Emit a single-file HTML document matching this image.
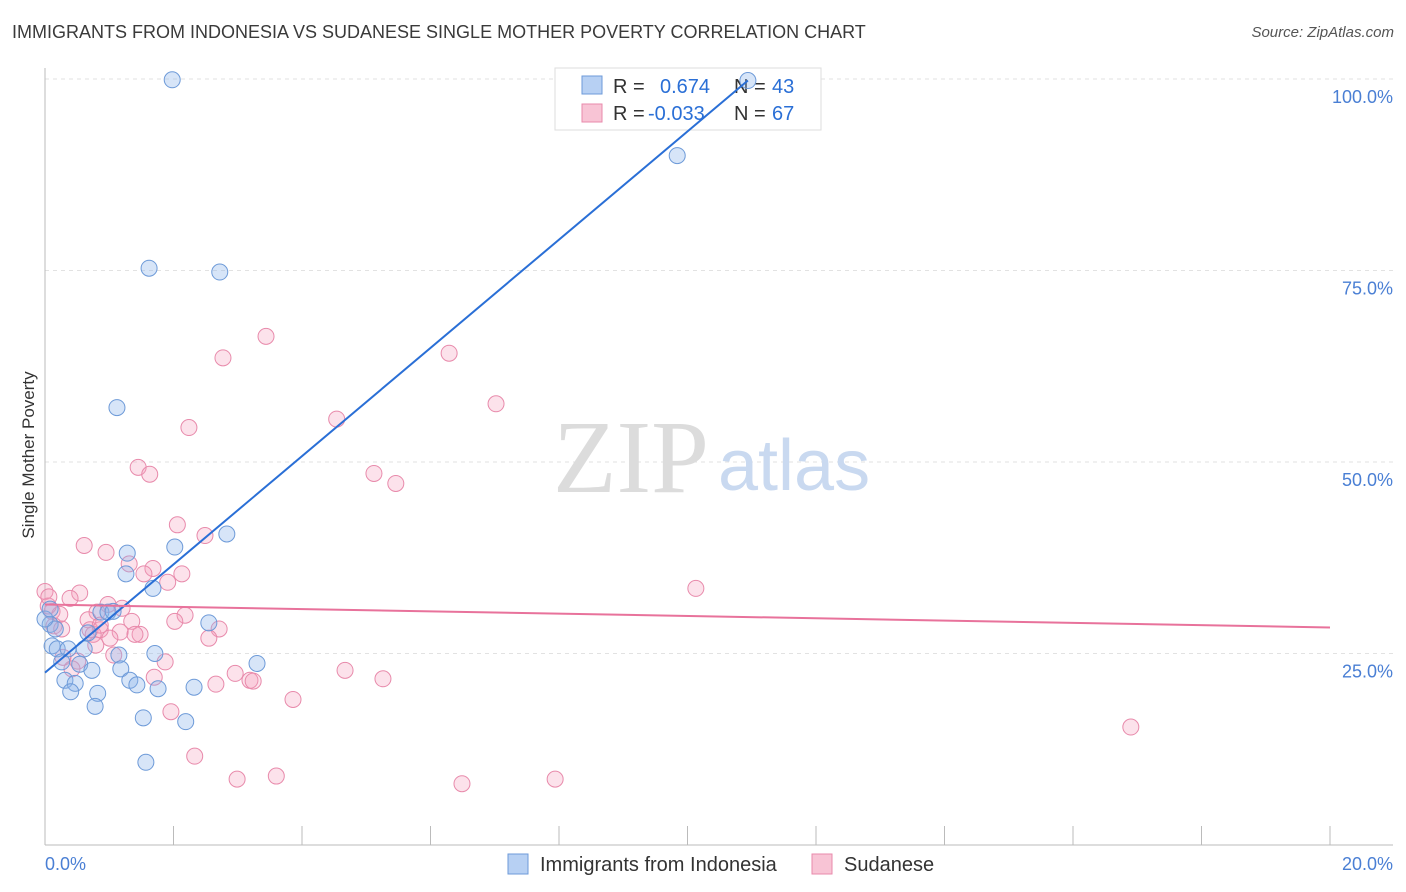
<!DOCTYPE html>
<html><head><meta charset="utf-8">
<style>
body{margin:0;background:#fff;font-family:"Liberation Sans",sans-serif;}
#wrap{position:relative;width:1406px;height:892px;overflow:hidden;}
.t{position:absolute;white-space:nowrap;}
</style></head><body>
<div id="wrap">
<div class="t" style="left:12px;top:22px;font-size:18px;color:#3a3a3a;">IMMIGRANTS FROM INDONESIA VS SUDANESE SINGLE MOTHER POVERTY CORRELATION CHART</div>
<div class="t" style="right:12px;top:24px;font-size:15px;color:#555;font-style:italic;">Source: ZipAtlas.com</div>
<div class="t" style="left:-56px;top:445px;font-size:17px;color:#333;transform:rotate(-90deg);transform-origin:center;width:170px;text-align:center;">Single Mother Poverty</div>
<svg id="svg" width="1406" height="892" style="position:absolute;left:0;top:0"></svg>
</div>
<script>
const xTicks=[0,2,4,6,8,10,12,14,16,18,20];
const yTicks=[25,50,75,100];
const yTickLabels=["25.0%","50.0%","75.0%","100.0%"];
const blueX=[1.98,10.94,9.84,1.62,2.72,1.12,2.02,2.83,1.28,1.26,1.68,0.87,0.98,1.06,2.55,0.08,0.16,0.67,0.11,0.19,0.36,0.61,1.15,1.71,3.30,0.26,0.54,0.73,1.18,0.31,0.47,1.32,1.43,1.76,2.32,0.40,0.82,0.78,1.53,2.19,1.57,0.00,0.08];
const blueY=[99.9,99.8,90.0,75.3,74.8,57.1,38.9,40.6,38.1,35.4,33.5,30.4,30.4,30.5,29.0,28.8,28.2,27.7,26.0,25.6,25.6,25.6,24.8,25.0,23.7,23.9,23.6,22.8,23.0,21.5,21.1,21.5,20.9,20.4,20.6,20.0,19.8,18.1,16.6,16.1,10.8,29.5,30.8];
const pinkX=[3.44,2.77,6.29,7.02,4.54,2.24,1.45,1.63,5.12,5.46,2.06,2.49,0.61,0.95,1.31,1.68,1.54,2.13,1.91,10.13,0.54,0.00,0.39,0.98,1.20,0.11,0.23,0.81,2.18,0.67,1.35,2.02,0.14,0.70,1.17,0.86,1.48,2.71,0.75,2.55,0.79,1.07,1.87,0.28,0.51,1.70,2.96,3.19,3.24,4.67,5.26,2.66,3.86,1.96,16.90,2.33,2.99,3.60,6.49,7.94,0.05,0.26,1.40,1.01,0.42,0.06,0.86];
const pinkY=[66.4,63.6,64.2,57.6,55.6,54.5,49.3,48.4,48.5,47.2,41.8,40.4,39.1,38.2,36.7,36.1,35.4,35.4,34.3,33.5,32.9,33.1,32.2,31.4,30.9,30.5,30.1,30.4,30.0,29.4,29.2,29.2,28.6,28.1,27.8,28.1,27.5,28.2,27.5,27.0,26.1,24.8,23.9,24.5,24.0,21.9,22.4,21.5,21.4,22.8,21.7,21.0,19.0,17.4,15.4,11.6,8.6,9.0,8.0,8.6,31.2,28.2,27.5,27.0,23.0,32.4,28.7];
const blueTrend=[[0,22.5],[10.94,99.8]];
const pinkTrend=[[0,31.4],[20,28.4]];
const X0=45,X1=1330,Y0=845,Y100=79;
const sx=v=>X0+(X1-X0)*v/20;
const sy=v=>Y0-(Y0-Y100)*v/100;
const svg=document.getElementById('svg');
const NS='http://www.w3.org/2000/svg';
function mk(tag,attrs,name,txt){const e=document.createElementNS(NS,tag);for(const k in attrs)e.setAttribute(k,attrs[k]);


if(txt!==undefined)e.textContent=txt;svg.appendChild(e);return e;}
yTicks.forEach((t,i)=>{mk('line',{x1:X0,x2:1393,y1:sy(t),y2:sy(t),stroke:'#e2e2e2','stroke-dasharray':'4,4'},'gridline');
mk('text',{x:1393,y:sy(t)+24,'text-anchor':'end','font-size':18,fill:'#4a7fd4','font-family':'Liberation Sans'},'y-tick-label',yTickLabels[i]);});
mk('line',{x1:X0,x2:X0,y1:68,y2:Y0,stroke:'#bbb'},'y-axis-line');
mk('line',{x1:X0,x2:1393,y1:Y0,y2:Y0,stroke:'#bbb'},'x-axis-line');
xTicks.forEach(t=>mk('line',{x1:sx(t),x2:sx(t),y1:Y0,y2:826,stroke:'#bbb'},'x-tick'));
mk('text',{x:45,y:870,'font-size':18,fill:'#4a7fd4','font-family':'Liberation Sans'},'x-tick-label','0.0%');
mk('text',{x:1393,y:870,'text-anchor':'end','font-size':18,fill:'#4a7fd4','font-family':'Liberation Sans'},'x-tick-label','20.0%');
mk('text',{x:553,y:492,'font-size':104,fill:'#dcdcdc','font-family':'Liberation Serif'},'watermark-zip','ZIP');
mk('text',{x:718,y:490,'font-size':72,fill:'#c9d9f0','font-family':'Liberation Sans'},'watermark-atlas','atlas');
// legend box (drawn beneath marks)
mk('rect',{x:555,y:68,width:266,height:62,fill:'#fff',stroke:'#ddd'},'legend-box');
mk('rect',{x:582,y:76,width:20,height:18,fill:'#b7d0f3',stroke:'#6d9ad8'},'legend-swatch-indonesia');
mk('rect',{x:582,y:104,width:20,height:18,fill:'#f8c4d5',stroke:'#e88aab'},'legend-swatch-sudanese');
const lt=(x,y,s,c,n)=>mk('text',{x:x,y:y,'font-size':20,fill:c,'font-family':'Liberation Sans'},n,s);
lt(613,93,'R =','#333','legend-r-label');lt(660,93,'0.674','#2a6fd6','legend-r-indonesia');
lt(734,93,'N =','#333','legend-n-label');lt(772,93,'43','#2a6fd6','legend-n-indonesia');
lt(613,120,'R =','#333','legend-r-label');lt(648,120,'-0.033','#2a6fd6','legend-r-sudanese');
lt(734,120,'N =','#333','legend-n-label');lt(772,120,'67','#2a6fd6','legend-n-sudanese');
pinkX.forEach((x,i)=>mk('circle',{cx:sx(x),cy:sy(pinkY[i]),r:8,fill:'rgba(244,160,190,0.3)',stroke:'#e88aab','stroke-width':1},'sudanese-point'));
blueX.forEach((x,i)=>mk('circle',{cx:sx(x),cy:sy(blueY[i]),r:8,fill:'rgba(140,180,235,0.35)',stroke:'#6d9ad8','stroke-width':1},'indonesia-point'));
mk('line',{x1:sx(blueTrend[0][0]),y1:sy(blueTrend[0][1]),x2:sx(blueTrend[1][0]),y2:sy(blueTrend[1][1]),stroke:'#2a6fd6','stroke-width':2},'indonesia-trendline');
mk('line',{x1:sx(pinkTrend[0][0]),y1:sy(pinkTrend[0][1]),x2:sx(pinkTrend[1][0]),y2:sy(pinkTrend[1][1]),stroke:'#e8729b','stroke-width':2},'sudanese-trendline');
// bottom legend
mk('rect',{x:508,y:854,width:20,height:20,fill:'#b7d0f3',stroke:'#6d9ad8'},'bottom-legend-swatch-indonesia');
lt(540,871,'Immigrants from Indonesia','#333','bottom-legend-indonesia');
mk('rect',{x:812,y:854,width:20,height:20,fill:'#f8c4d5',stroke:'#e88aab'},'bottom-legend-swatch-sudanese');
lt(844,871,'Sudanese','#333','bottom-legend-sudanese');
</script>
</body></html>
